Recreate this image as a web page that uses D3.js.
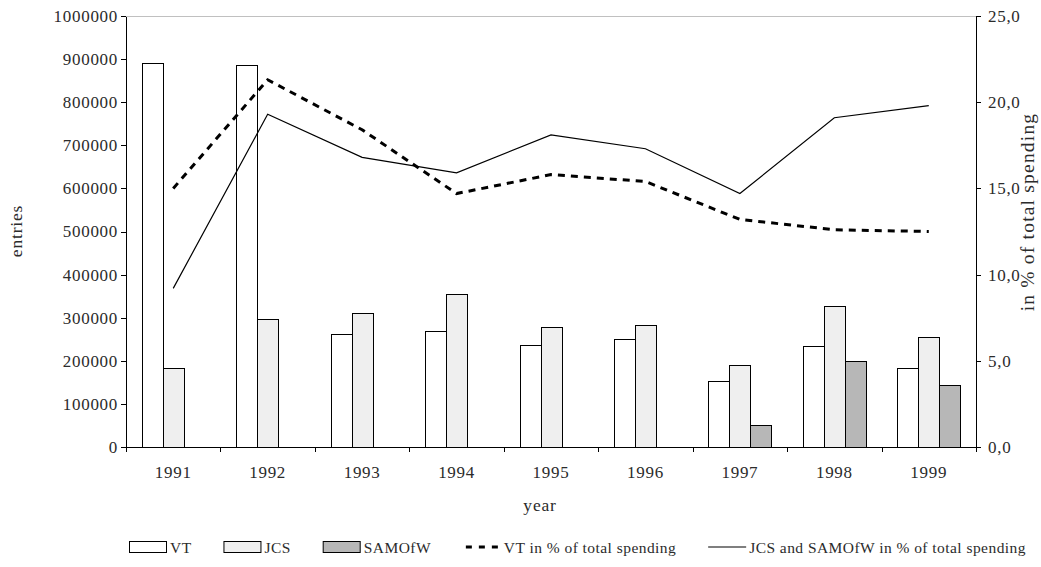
<!DOCTYPE html>
<html>
<head>
<meta charset="utf-8">
<script src="https://cdn.jsdelivr.net/npm/d3@7"></script>
<style>
  body { margin: 0; background: #fff; }
  svg text { font-family: "Liberation Serif", "Times New Roman", serif; fill: #2b2b2b; }
  .axis path, .axis line { stroke: #000; shape-rendering: crispEdges; }
  .axis text { font-family: "Liberation Serif", "Times New Roman", serif; font-size: 17px; letter-spacing: 0.7px; fill: #2b2b2b; }
  .title { font-size: 17.5px; letter-spacing: 0.8px; }
  .title.right { font-size: 19.5px; letter-spacing: 1.2px; }
  .legend text { font-size: 15.5px; letter-spacing: 0.45px; }
</style>
</head>
<body>
<div id="chart"></div>
<script>
// entries per year, and shares of total spending (in %)
var years = ["1991", "1992", "1993", "1994", "1995", "1996", "1997", "1998", "1999"];
var vtEntries = [891000, 886000, 262000, 268000, 237000, 251000, 154000, 235000, 183000];
var jcsEntries = [183000, 296000, 312000, 356000, 278000, 282000, 191000, 328000, 255000];
var samofwEntries = [null, null, null, null, null, null, 50000, 200000, 145000];
var vtShare = [15.0, 21.3, 18.4, 14.7, 15.8, 15.4, 13.2, 12.6, 12.5];
var jcsSamShare = [9.2, 19.3, 16.8, 15.9, 18.1, 17.3, 14.7, 19.1, 19.8];
var leftTicks = [0, 100000, 200000, 300000, 400000, 500000, 600000, 700000, 800000, 900000, 1000000];
var rightTicks = [0, 5, 10, 15, 20, 25];

var series = [
    {name: "VT", values: vtEntries, fill: "#ffffff"},
    {name: "JCS", values: jcsEntries, fill: "#efefef"},
    {name: "SAMOfW", values: samofwEntries, fill: "#b7b7b7"}
];

var margin = {top: 16, right: 65, bottom: 120, left: 126},
    width = 1041 - margin.left - margin.right,
    height = 567 - margin.top - margin.bottom;

var svg = d3.select("#chart").append("svg")
    .attr("width", 1041)
    .attr("height", 567);

var g = svg.append("g")
    .attr("transform", "translate(" + margin.left + "," + margin.top + ")");

var x = d3.scaleBand()
    .domain(years)
    .range([0, width]);

var xInner = d3.scaleBand()
    .domain(series.map(function(s) { return s.name; }))
    .range([0, 63]);

var y = d3.scaleLinear()
    .domain([0, 1000000])
    .range([height, 0]);

var y2 = d3.scaleLinear()
    .domain([0, 25])
    .range([height, 0]);

// top grid line
g.append("line")
    .attr("x1", 0).attr("x2", width)
    .attr("y1", y(1000000)).attr("y2", y(1000000))
    .attr("stroke", "#c0c0c0")
    .attr("shape-rendering", "crispEdges");

// bars
var groupOffset = (x.bandwidth() - 63) / 2;
series.forEach(function(s) {
    var data = s.values.map(function(v, i) { return {year: years[i], val: v}; })
        .filter(function(d) { return d.val != null; });
    g.selectAll(".bar-" + s.name)
        .data(data)
      .enter().append("rect")
        .attr("class", "bar-" + s.name)
        .attr("x", function(d) { return Math.round(x(d.year) + groupOffset + xInner(s.name)) + 0.5; })
        .attr("y", function(d) { return Math.round(y(d.val)) + 0.5; })
        .attr("width", xInner.bandwidth())
        .attr("height", function(d) { return Math.round(height - y(d.val)); })
        .attr("fill", s.fill)
        .attr("stroke", "#000")
        .attr("stroke-width", 1);
});

// lines on the right axis
var line = d3.line()
    .x(function(d, i) { return x(years[i]) + x.bandwidth() / 2; })
    .y(function(d) { return y2(d); });

g.append("path")
    .datum(vtShare)
    .attr("d", line)
    .attr("fill", "none")
    .attr("stroke", "#000")
    .attr("stroke-width", 3)
    .attr("stroke-dasharray", "7,6");

g.append("path")
    .datum(jcsSamShare)
    .attr("d", line)
    .attr("fill", "none")
    .attr("stroke", "#000")
    .attr("stroke-width", 1.2);

// left axis
g.append("g")
    .attr("class", "axis")
    .call(d3.axisLeft(y).tickValues(leftTicks).tickSize(5).tickPadding(3).tickSizeOuter(0)
        .tickFormat(d3.format("d")));

// right axis
g.append("g")
    .attr("class", "axis")
    .attr("transform", "translate(" + width + ",0)")
    .call(d3.axisRight(y2).tickValues(rightTicks).tickSize(5).tickPadding(7).tickSizeOuter(0)
        .tickFormat(function(d) { return d3.format(".1f")(d).replace(".", ","); }));

// bottom axis: ticks between categories, labels in the middle
var xIdx = d3.scaleLinear().domain([0, years.length]).range([0, width]);
g.append("g")
    .attr("class", "axis")
    .attr("transform", "translate(0," + height + ")")
    .call(d3.axisBottom(xIdx).ticks(years.length).tickSize(5).tickSizeOuter(0).tickFormat(""));

g.append("g")
    .attr("class", "axis")
    .attr("transform", "translate(0," + height + ")")
    .call(d3.axisBottom(x).tickSize(0).tickPadding(19))
    .select(".domain").remove();

// axis titles
svg.append("text")
    .attr("class", "title")
    .attr("transform", "translate(22,231) rotate(-90)")
    .attr("text-anchor", "middle")
    .text("entries");

svg.append("text")
    .attr("class", "title right")
    .attr("transform", "translate(1034,212) rotate(-90)")
    .attr("text-anchor", "middle")
    .text("in % of total spending");

svg.append("text")
    .attr("class", "title")
    .attr("x", 540)
    .attr("y", 511)
    .attr("text-anchor", "middle")
    .text("year");

// legend, laid out left to right with even spacing
var legendItems = [
    {label: "VT", type: "box", fill: "#ffffff"},
    {label: "JCS", type: "box", fill: "#efefef"},
    {label: "SAMOfW", type: "box", fill: "#b7b7b7"},
    {label: "VT in % of total spending", type: "dash"},
    {label: "JCS and SAMOfW in % of total spending", type: "line"}
];
var ly = 547, lx0 = 129, lx1 = 1026, symW = 38, symGap = 3;
var legend = svg.append("g").attr("class", "legend");
var items = legendItems.map(function(d) {
    var item = legend.append("g");
    if (d.type === "box") {
        item.append("rect")
            .attr("x", 0.5).attr("y", -5.5)
            .attr("width", symW - 1).attr("height", 11)
            .attr("fill", d.fill).attr("stroke", "#000");
    } else {
        item.append("line")
            .attr("x1", d.type === "dash" ? 3 : 0).attr("x2", symW)
            .attr("y1", 0).attr("y2", 0)
            .attr("stroke", "#000")
            .attr("stroke-width", d.type === "dash" ? 3 : 1.2)
            .attr("stroke-dasharray", d.type === "dash" ? "6,7" : null);
    }
    var t = item.append("text")
        .attr("x", symW + symGap)
        .attr("y", 5.5)
        .text(d.label);
    return {g: item, w: symW + symGap + t.node().getComputedTextLength()};
});
var totalW = d3.sum(items, function(d) { return d.w; });
var between = (lx1 - lx0 - totalW) / (items.length - 1);
var cx = lx0;
items.forEach(function(d) {
    d.g.attr("transform", "translate(" + cx + "," + ly + ")");
    cx += d.w + between;
});
</script>
</body>
</html>
